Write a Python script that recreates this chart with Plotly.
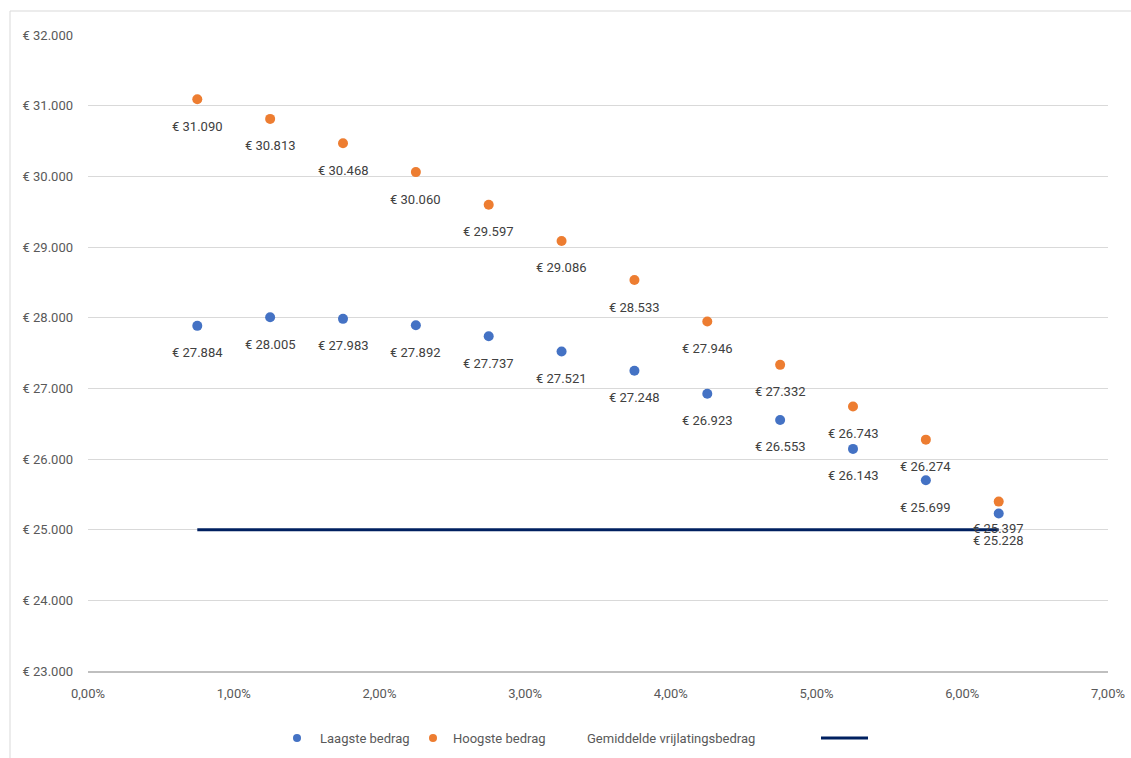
import plotly.graph_objects as go

# ---- data ----
rente = [0.0075, 0.0125, 0.0175, 0.0225, 0.0275, 0.0325, 0.0375, 0.0425, 0.0475, 0.0525, 0.0575, 0.0625]
laagste = [27884, 28005, 27983, 27892, 27737, 27521, 27248, 26923, 26553, 26143, 25699, 25228]
hoogste = [31090, 30813, 30468, 30060, 29597, 29086, 28533, 27946, 27332, 26743, 26274, 25397]
gem_x = [0.0075, 0.0625]
gem_y = [25000, 25000]
y_ticks = [23000, 24000, 25000, 26000, 27000, 28000, 29000, 30000, 31000, 32000]
x_ticks = [0.0, 0.01, 0.02, 0.03, 0.04, 0.05, 0.06, 0.07]
legend_names = ["Laagste bedrag", "Hoogste bedrag", "Gemiddelde vrijlatingsbedrag"]

BLUE = "#4472C4"
ORANGE = "#ED7D31"
NAVY = "#002060"
FONT = "Roboto, 'Noto Sans', sans-serif"

W, H = 1131, 758
L, R, T, B = 88, 1108, 35, 671  # plot area in pixels


def px2paper(x, y):
    return (x - L) / (R - L), (B - y) / (B - T)


def fmt_eur(v):
    return "€ " + f"{v:,.0f}".replace(",", ".")


fig = go.Figure()
fig.add_trace(go.Scatter(x=rente, y=laagste, mode="markers", name=legend_names[0],
                         marker=dict(color=BLUE, size=10), showlegend=False, hoverinfo="x+y"))
fig.add_trace(go.Scatter(x=rente, y=hoogste, mode="markers", name=legend_names[1],
                         marker=dict(color=ORANGE, size=10), showlegend=False, hoverinfo="x+y"))
fig.add_trace(go.Scatter(x=gem_x, y=gem_y, mode="lines", name=legend_names[2],
                         line=dict(color=NAVY, width=3), showlegend=False, hoverinfo="x+y"))

annotations = []
for xs, ys in ((rente, laagste), (rente, hoogste)):
    for xv, yv in zip(xs, ys):
        annotations.append(dict(x=xv, y=yv, xref="x", yref="y", text=fmt_eur(yv),
                                showarrow=False, yshift=-27, xanchor="center", yanchor="middle",
                                font=dict(family=FONT, size=13, color="#404040")))

shapes = []
# outer chart border (partially clipped like the reference)
bx0, by0 = px2paper(10, 11)
shapes.append(dict(type="rect", xref="paper", yref="paper", x0=bx0, y0=-0.2, x1=1.1, y1=by0,
                   line=dict(color="#d9d9d9", width=1), fillcolor="rgba(0,0,0,0)", layer="below"))

# custom legend (symbol after the text for the line entry, as in the reference)
ly = 738
for (cx, color, tx, name) in ((297, BLUE, 318, legend_names[0]), (433, ORANGE, 451, legend_names[1])):
    px, py = px2paper(cx, ly)
    shapes.append(dict(type="circle", xref="paper", yref="paper", xsizemode="pixel", ysizemode="pixel",
                       xanchor=px, yanchor=py, x0=-4, x1=4, y0=-4, y1=4,
                       fillcolor=color, line=dict(color=color, width=0)))
    tpx, tpy = px2paper(tx, ly)
    annotations.append(dict(x=tpx, y=tpy, xref="paper", yref="paper", text=name, showarrow=False,
                            xanchor="left", yanchor="middle",
                            font=dict(family=FONT, size=13, color="#595959")))
tpx, tpy = px2paper(585, ly)
annotations.append(dict(x=tpx, y=tpy, xref="paper", yref="paper", text=legend_names[2], showarrow=False,
                        xanchor="left", yanchor="middle",
                        font=dict(family=FONT, size=13, color="#595959")))
lx0, lyp = px2paper(821, ly)
lx1, _ = px2paper(868, ly)
shapes.append(dict(type="line", xref="paper", yref="paper", x0=lx0, x1=lx1, y0=lyp, y1=lyp,
                   line=dict(color=NAVY, width=3)))

fig.update_layout(
    width=W, height=H,
    margin=dict(l=L, r=W - R, t=T, b=H - B, pad=0, autoexpand=False),
    paper_bgcolor="white", plot_bgcolor="white",
    separators=",.",
    font=dict(family=FONT, size=13, color="#595959"),
    showlegend=False,
    annotations=annotations,
    shapes=shapes,
    xaxis=dict(range=[0, 0.07], tickvals=x_ticks, tickformat=".2%", showgrid=False, zeroline=False,
               showline=True, linecolor="#bfbfbf", linewidth=2, ticks="", ticklabelstandoff=9,
               automargin=False, ticklabeloverflow="allow",
               tickfont=dict(family=FONT, size=13, color="#595959"), fixedrange=True),
    yaxis=dict(range=[23000, 32000], tickvals=y_ticks, ticktext=[fmt_eur(v) for v in y_ticks],
               showgrid=True, gridcolor="#d9d9d9", gridwidth=1, zeroline=False, showline=False,
               ticks="", ticklabelstandoff=14, automargin=False,
               tickfont=dict(family=FONT, size=13, color="#595959"), fixedrange=True),
)

# remove the default 8px page margin so the 1131x758 figure fills the window exactly
fig.write_html("out.html",
               config={"displayModeBar": False},
               post_script="document.body.style.margin='0';document.body.style.overflow='hidden';")
